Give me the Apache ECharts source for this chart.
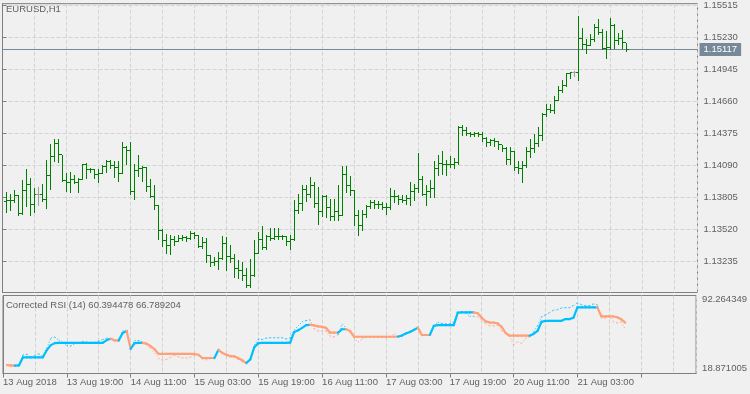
<!DOCTYPE html>
<html><head><meta charset="utf-8">
<script src="https://cdn.jsdelivr.net/npm/echarts@6/dist/echarts.min.js"></script>
<style>html,body{margin:0;padding:0;background:#F0F0F0}#c{width:750px;height:394px}</style>
</head><body><div id="c"></div>
<script>
const symbolTitle = 'EURUSD,H1';
const indicatorName = 'Corrected RSI (14)';
const indicatorLast = ['60.394478', '66.789204'];
const timeLabels = ['13 Aug 2018','13 Aug 19:00','14 Aug 11:00','15 Aug 03:00','15 Aug 19:00','16 Aug 11:00','17 Aug 03:00','17 Aug 19:00','20 Aug 11:00','21 Aug 03:00'];
const priceTicks = [1.13235,1.13520,1.13805,1.14090,1.14375,1.14660,1.14945,1.15230,1.15515];
const rsiTicks = [18.871005, 92.264349];
const currentPrice = [1.15117];

const open = [1.13768,1.13774,1.13780,1.13819,1.13659,1.13863,1.13916,1.13742,1.13828,1.13828,
1.13783,1.13998,1.14167,1.14279,1.14182,1.13957,1.13934,1.13963,1.13934,1.13963,
1.14096,1.14049,1.14052,1.14005,1.14019,1.14078,1.14122,1.14087,1.14067,1.14019,
1.14244,1.14220,1.13854,1.14043,1.14058,1.14067,1.13901,1.13812,1.13733,1.13511,
1.13423,1.13378,1.13431,1.13414,1.13440,1.13449,1.13440,1.13485,1.13467,1.13369,
1.13405,1.13290,1.13228,1.13235,1.13263,1.13396,1.13281,1.13263,1.13175,1.13157,
1.13112,1.13024,1.13112,1.13305,1.13431,1.13358,1.13458,1.13438,1.13452,1.13458,
1.13454,1.13414,1.13429,1.13688,1.13748,1.13872,1.13830,1.13910,1.13748,1.13680,
1.13815,1.13712,1.13635,1.13680,1.13644,1.14005,1.13910,1.13866,1.13644,1.13556,
1.13650,1.13724,1.13762,1.13742,1.13739,1.13718,1.13712,1.13815,1.13808,1.13783,
1.13777,1.13792,1.13857,1.13881,1.13960,1.13828,1.13857,1.13881,1.14058,1.14102,
1.14096,1.14093,1.14098,1.14111,1.14424,1.14397,1.14371,1.14362,1.14371,1.14366,
1.14326,1.14291,1.14309,1.14305,1.14273,1.14235,1.14138,1.14211,1.14067,1.14060,
1.14087,1.14211,1.14235,1.14279,1.14353,1.14539,1.14589,1.14581,1.14669,1.14752,
1.14796,1.14905,1.14914,1.14914,1.15219,1.15165,1.15159,1.15204,1.15312,1.15268,
1.15126,1.15135,1.15336,1.15201,1.15219,1.15180];

const high = [1.13851,1.13836,1.13872,1.13821,1.13960,1.14058,1.13978,1.13886,1.13895,1.13919,
1.14138,1.14279,1.14324,1.14324,1.14182,1.14019,1.14028,1.14005,1.13978,1.14102,
1.14111,1.14063,1.14058,1.14052,1.14093,1.14140,1.14140,1.14131,1.14131,1.14294,
1.14264,1.14294,1.14102,1.14185,1.14081,1.14072,1.13969,1.13910,1.13739,1.13526,
1.13482,1.13467,1.13458,1.13467,1.13473,1.13458,1.13502,1.13496,1.13470,1.13452,
1.13446,1.13290,1.13275,1.13314,1.13458,1.13452,1.13378,1.13299,1.13245,1.13228,
1.13177,1.13260,1.13423,1.13496,1.13547,1.13467,1.13535,1.13532,1.13535,1.13473,
1.13458,1.13467,1.13777,1.13830,1.13910,1.13910,1.13983,1.13945,1.13895,1.13821,
1.13821,1.13786,1.13786,1.13910,1.14087,1.14087,1.13998,1.13872,1.13688,1.13688,
1.13733,1.13777,1.13777,1.13768,1.13762,1.13753,1.13886,1.13872,1.13828,1.13828,
1.13821,1.13945,1.13925,1.14196,1.13990,1.13910,1.13960,1.14125,1.14185,1.14214,
1.14138,1.14176,1.14152,1.14442,1.14450,1.14433,1.14388,1.14388,1.14388,1.14382,
1.14344,1.14326,1.14329,1.14309,1.14273,1.14255,1.14255,1.14220,1.14131,1.14131,
1.14249,1.14324,1.14368,1.14426,1.14550,1.14634,1.14634,1.14707,1.14796,1.14846,
1.14914,1.14920,1.14929,1.15416,1.15312,1.15210,1.15259,1.15343,1.15387,1.15298,
1.15283,1.15401,1.15343,1.15268,1.15289,1.15180];

const low = [1.13673,1.13688,1.13762,1.13650,1.13659,1.13724,1.13650,1.13673,1.13733,1.13771,
1.13709,1.13874,1.14131,1.14122,1.13948,1.13857,1.13851,1.13930,1.13851,1.13963,
1.13975,1.14028,1.13975,1.13939,1.14019,1.14028,1.14067,1.13983,1.13948,1.14019,
1.14102,1.13836,1.13792,1.13998,1.13948,1.13859,1.13806,1.13697,1.13431,1.13372,
1.13305,1.13296,1.13378,1.13414,1.13423,1.13416,1.13431,1.13443,1.13358,1.13354,
1.13230,1.13195,1.13201,1.13163,1.13254,1.13157,1.13230,1.13097,1.13083,1.13068,
1.13009,1.13006,1.13106,1.13305,1.13349,1.13343,1.13429,1.13438,1.13431,1.13438,
1.13378,1.13343,1.13423,1.13664,1.13688,1.13771,1.13806,1.13718,1.13571,1.13635,
1.13629,1.13606,1.13606,1.13600,1.13644,1.13850,1.13821,1.13556,1.13473,1.13511,
1.13629,1.13712,1.13712,1.13712,1.13697,1.13659,1.13703,1.13762,1.13748,1.13762,
1.13748,1.13733,1.13777,1.13850,1.13821,1.13733,1.13806,1.13806,1.14005,1.14014,
1.14005,1.14072,1.14067,1.14105,1.14362,1.14362,1.14353,1.14349,1.14349,1.14309,
1.14264,1.14273,1.14264,1.14238,1.14220,1.14102,1.14102,1.14043,1.14019,1.13939,
1.14072,1.14161,1.14205,1.14264,1.14315,1.14530,1.14559,1.14550,1.14667,1.14737,
1.14796,1.14869,1.14885,1.14846,1.15121,1.15091,1.15155,1.15199,1.15254,1.15121,
1.15047,1.15121,1.15135,1.15165,1.15135,1.15106];

const close = [1.13774,1.13780,1.13819,1.13659,1.13863,1.13916,1.13742,1.13828,1.13828,1.13783,
1.13998,1.14167,1.14279,1.14182,1.13957,1.13934,1.13963,1.13934,1.13963,1.14096,
1.14049,1.14052,1.14005,1.14019,1.14078,1.14122,1.14087,1.14067,1.14019,1.14244,
1.14220,1.13854,1.14043,1.14058,1.14067,1.13901,1.13812,1.13733,1.13511,1.13423,
1.13378,1.13431,1.13414,1.13440,1.13449,1.13440,1.13485,1.13467,1.13369,1.13405,
1.13290,1.13228,1.13235,1.13263,1.13396,1.13281,1.13263,1.13175,1.13157,1.13112,
1.13024,1.13112,1.13305,1.13431,1.13358,1.13458,1.13438,1.13452,1.13458,1.13454,
1.13414,1.13429,1.13688,1.13748,1.13872,1.13830,1.13910,1.13748,1.13680,1.13815,
1.13712,1.13635,1.13680,1.13644,1.14005,1.13910,1.13866,1.13644,1.13556,1.13650,
1.13724,1.13762,1.13742,1.13739,1.13718,1.13712,1.13815,1.13808,1.13783,1.13777,
1.13792,1.13857,1.13881,1.13960,1.13828,1.13857,1.13881,1.14058,1.14102,1.14096,
1.14093,1.14098,1.14111,1.14424,1.14397,1.14371,1.14362,1.14371,1.14366,1.14326,
1.14291,1.14309,1.14305,1.14273,1.14235,1.14138,1.14211,1.14067,1.14060,1.14087,
1.14211,1.14235,1.14279,1.14353,1.14539,1.14589,1.14581,1.14669,1.14752,1.14796,
1.14905,1.14914,1.14914,1.15219,1.15165,1.15159,1.15204,1.15312,1.15268,1.15126,
1.15135,1.15336,1.15201,1.15219,1.15180,1.15117];

const rsiMain = [26.80,26.50,26.20,26.50,34.12,34.12,34.12,34.12,34.12,34.12,
41.01,45.56,47.46,47.75,47.75,47.75,47.75,47.75,47.75,47.75,
47.75,47.75,47.75,47.75,47.75,50.32,51.56,50.03,50.03,56.99,
58.90,42.03,47.46,47.75,47.75,46.98,44.60,41.74,37.26,37.26,
37.26,37.26,37.26,37.26,37.26,37.26,37.26,37.26,36.50,33.45,
33.45,33.45,33.45,41.01,38.22,36.50,35.36,35.07,33.16,31.26,
28.69,32.21,43.65,47.46,47.75,47.75,47.75,47.75,47.75,47.75,
47.75,47.94,57.94,59.56,61.76,64.33,64.61,64.14,63.19,62.71,
61.76,57.28,57.28,57.28,60.52,60.52,58.90,53.47,53.47,53.47,
53.47,53.47,53.47,53.47,53.47,53.47,53.47,53.47,53.47,54.61,
56.52,57.94,59.85,62.05,55.09,55.09,55.09,63.67,64.33,64.33,
64.33,64.33,64.33,76.06,76.35,76.35,76.35,76.35,75.59,71.30,
67.96,66.82,66.82,66.06,62.71,56.99,54.42,54.42,54.42,54.42,
54.42,54.42,56.04,58.90,67.47,68.43,68.43,68.43,68.43,68.43,
70.05,70.05,71.30,81.11,81.11,81.11,81.11,81.11,81.11,72.53,
72.53,72.53,72.53,71.76,69.86,66.79];

const rsiDotted = [26.49,25.54,25.54,27.45,36.50,36.98,34.12,36.03,37.46,35.07,
42.70,52.23,53.19,50.32,47.46,45.08,44.60,46.98,47.46,48.89,
48.42,47.46,47.94,49.37,50.80,52.23,51.28,49.37,48.89,58.90,
58.90,42.98,50.03,49.84,48.42,45.56,42.70,37.93,33.16,31.26,
32.21,34.12,36.03,34.60,33.45,33.45,34.12,36.03,35.55,32.21,
31.73,32.69,33.64,42.03,38.41,35.07,34.12,34.12,32.21,29.83,
28.40,32.21,45.56,51.28,50.80,52.23,52.51,52.51,52.51,52.51,
51.28,52.23,59.85,63.67,67.47,68.71,69.37,60.80,58.90,58.90,
58.90,54.14,53.19,55.09,65.57,61.76,56.99,52.23,48.42,51.28,
53.19,53.19,53.19,53.19,53.19,52.71,53.19,56.04,54.14,54.14,
56.99,58.42,59.85,62.05,55.09,55.09,55.57,63.67,67.19,66.06,
65.57,65.57,67.00,76.06,77.01,76.06,72.72,72.72,72.24,68.43,
65.57,63.67,63.67,64.14,58.90,56.99,54.42,45.56,48.70,47.17,
51.94,53.19,58.24,63.67,72.24,74.15,76.06,78.44,78.92,80.54,
80.82,80.82,82.73,85.30,83.69,82.73,82.73,84.36,83.69,71.01,
71.01,73.20,67.77,66.24,67.47,60.39];

const FONT = '"Liberation Sans", Arial, sans-serif';
const TXT = '#5f5f5f';
const GRID_C = '#d3d3d3';
const FRAME = '#7f7f7f';
const UP = '#00BFFF', DN = '#FFA07A';
const PRICE_LINE = '#778899';
const XMAX = 173.75;

const bars = close.map((c, i) => [i + 1, open[i], Math.max(high[i], open[i], c), Math.min(low[i], open[i], c), c]);
const st = []; let s = 0;
rsiMain.forEach((v, i) => { if (i > 0) { if (v > rsiMain[i - 1]) s = 1; else if (v < rsiMain[i - 1]) s = 0; } st.push(s); });
const seg = arr => arr.slice(1).map((v, k) => [k + 1, arr[k], k + 2, v, st[k + 1]]);

function renderBar(params, api) {
  const x = api.value(0), o = api.value(1), h = api.value(2), l = api.value(3), c = api.value(4);
  const pH = api.coord([x, h]), pL = api.coord([x, l]), pO = api.coord([x, o]), pC = api.coord([x, c]);
  const col = o === c ? '#a0a0a0' : '#008000';
  const px = Math.floor(pH[0]);
  const top = Math.round(pH[1]), bot = Math.round(pL[1]);
  const yo = Math.floor(pO[1]), yc = Math.floor(pC[1]);
  return { type: 'group', children: [
    { type: 'rect', shape: { x: px, y: top, width: 1, height: Math.max(1, bot - top + 1) }, style: { fill: col } },
    { type: 'rect', shape: { x: px - 2, y: yo, width: 2, height: 1 }, style: { fill: col } },
    { type: 'rect', shape: { x: px + 1, y: yc, width: 2, height: 1 }, style: { fill: col } }
  ] };
}
function renderPriceLine(params, api) {
  const p = api.value(0);
  const a = api.coord([0, p]), b = api.coord([XMAX, p]);
  const y = Math.floor(a[1]) + 0.5;
  return { type: 'group', children: [
    { type: 'line', shape: { x1: a[0], y1: y, x2: b[0], y2: y }, style: { stroke: PRICE_LINE, lineWidth: 1 } },
    { type: 'text', x: b[0] + 2, y: y, style: { text: p.toFixed(5), fill: '#ffffff', backgroundColor: PRICE_LINE,
        padding: [2, 4, 1, 4], font: '9.5px ' + FONT, verticalAlign: 'middle', align: 'left' } }
  ] };
}
function segRender(width, dash) {
  return function (params, api) {
    const a = api.coord([api.value(0), api.value(1)]);
    const b = api.coord([api.value(2), api.value(3)]);
    const col = api.value(4) ? UP : DN;
    return { type: 'line', shape: { x1: a[0], y1: a[1], x2: b[0], y2: b[1] },
      style: { stroke: col, lineWidth: width, lineDash: dash, lineCap: dash ? 'butt' : 'round' } };
  };
}
const lbl = { color: TXT, fontSize: 9.5, fontFamily: FONT };
const dashed = { show: true, lineStyle: { color: GRID_C, type: [4, 2], width: 1 } };

const option = {
  backgroundColor: '#F0F0F0',
  animation: false,
  title: [
    { text: symbolTitle, left: 6, top: 4, padding: 0, textStyle: Object.assign({ fontWeight: 'normal' }, lbl) },
    { text: indicatorName + ' ' + indicatorLast.join(' '), left: 6, top: 300, padding: 0, textStyle: Object.assign({ fontWeight: 'normal' }, lbl) }
  ],
  grid: [
    { left: 2.5, top: 2.5, width: 695, height: 290, show: true, borderColor: FRAME, borderWidth: 1, backgroundColor: 'transparent' },
    { left: 2.5, top: 295.5, width: 695, height: 78, show: true, borderColor: FRAME, borderWidth: 1, backgroundColor: 'transparent' }
  ],
  xAxis: [
    { type: 'value', gridIndex: 0, min: 0, max: XMAX, interval: 8, axisLine: { show: false }, axisTick: { show: false }, axisLabel: { show: false }, splitLine: dashed },
    { type: 'value', gridIndex: 1, min: 0, max: XMAX, interval: 16, position: 'bottom',
      axisLine: { show: true, lineStyle: { color: FRAME } }, axisTick: { show: true, length: 4, lineStyle: { color: FRAME } },
      axisLabel: Object.assign({ align: 'left', margin: 4, showMaxLabel: false,
        formatter: v => { const k = v / 16; return (Number.isInteger(k) && k < timeLabels.length) ? timeLabels[k] : ''; } }, lbl),
      splitLine: { show: false } },
    { type: 'value', gridIndex: 1, min: 0, max: XMAX, interval: 8, axisLine: { show: false }, axisTick: { show: false }, axisLabel: { show: false }, splitLine: dashed }
  ],
  yAxis: [
    { type: 'value', gridIndex: 0, position: 'right', min: 1.129577, max: 1.155268, scale: true,
      axisLine: { show: true, lineStyle: { color: FRAME } },
      axisTick: { show: true, length: 4, lineStyle: { color: FRAME }, customValues: priceTicks },
      axisLabel: Object.assign({ margin: 6, customValues: priceTicks, formatter: v => v.toFixed(5) }, lbl),
      splitLine: dashed },
    { type: 'value', gridIndex: 1, position: 'right', min: rsiTicks[0], max: rsiTicks[1], scale: true,
      axisLine: { show: true, lineStyle: { color: FRAME } },
      axisTick: { show: true, length: 4, lineStyle: { color: FRAME }, customValues: rsiTicks },
      axisLabel: Object.assign({ margin: 6, customValues: rsiTicks,
        formatter: v => (v > 50 ? '{t|' : '{b|') + v.toFixed(6) + '}',
        rich: { t: { padding: [7, 0, 0, 0], color: TXT, fontSize: 9.5, fontFamily: FONT }, b: { padding: [0, 0, 10, 0], color: TXT, fontSize: 9.5, fontFamily: FONT } } }, lbl),
      splitLine: { show: false } }
  ],
  series: [
    { type: 'custom', xAxisIndex: 0, yAxisIndex: 0, data: currentPrice.map(p => [p]), renderItem: renderPriceLine,
      encode: { y: 0 }, clip: false, silent: true, z: 2 },
    { type: 'custom', name: symbolTitle, xAxisIndex: 0, yAxisIndex: 0, data: bars, renderItem: renderBar,
      encode: { x: 0, y: [1, 2, 3, 4] }, clip: true, silent: true, z: 3 },
    { type: 'custom', xAxisIndex: 1, yAxisIndex: 1, data: seg(rsiDotted), renderItem: segRender(1, [1, 2]),
      encode: { x: [0, 2], y: [1, 3] }, clip: true, silent: true, z: 3 },
    { type: 'custom', xAxisIndex: 1, yAxisIndex: 1, data: seg(rsiMain), renderItem: segRender(2.2, null),
      encode: { x: [0, 2], y: [1, 3] }, clip: true, silent: true, z: 4 }
  ]
};
const chart = echarts.init(document.getElementById('c'), null, { renderer: 'canvas' });
chart.setOption(option);
</script></body></html>
